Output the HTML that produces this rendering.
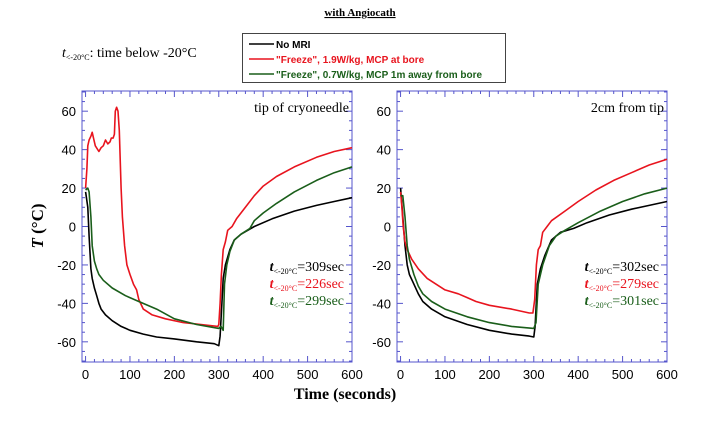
<!DOCTYPE html>
<html><head><meta charset="utf-8"><style>
body{margin:0;background:#fff;width:721px;height:416px;overflow:hidden}
svg text{font-family:"Liberation Serif",serif}
.sans{font-family:"Liberation Sans",sans-serif}
</style></head><body>
<svg id="chart" width="721" height="416">
<text x="360" y="16" text-anchor="middle" font-size="11" font-weight="bold" text-decoration="underline">with Angiocath</text>
<text x="62" y="57" font-size="14"><tspan font-style="italic">t</tspan><tspan font-size="8" dy="3">&lt;-20°C</tspan><tspan dy="-3">: time below -20°C</tspan></text>
<g>
<rect x="242.5" y="33.5" width="263" height="49" fill="#fff" stroke="#444" stroke-width="1"/>
<g><line x1="249" y1="44" x2="274" y2="44" stroke="#000" stroke-width="1.5"/><text class="sans" x="276" y="48" font-size="10" font-weight="bold" fill="#000">No MRI</text></g>
<g><line x1="249" y1="59" x2="274" y2="59" stroke="#e8141e" stroke-width="1.5"/><text class="sans" x="276" y="63" font-size="10" font-weight="bold" fill="#e8141e">"Freeze", 1.9W/kg, MCP at bore</text></g>
<g><line x1="249" y1="74" x2="274" y2="74" stroke="#1a5e1a" stroke-width="1.5"/><text class="sans" x="276" y="78" font-size="10" font-weight="bold" fill="#1a5e1a">"Freeze", 0.7W/kg, MCP 1m away from bore</text></g>
</g>
<text transform="translate(43,226) rotate(-90)" text-anchor="middle" font-size="17" font-weight="bold"><tspan font-style="italic">T</tspan> (°C)</text>
<text x="345" y="399" text-anchor="middle" font-size="16" font-weight="bold">Time (seconds)</text>
<g id="panels"></g>
</svg>
<script>
const xTicks=[0,100,200,300,400,500,600];
const yTicks=[-60,-40,-20,0,20,40,60];
const leftBlack=[[0,18],[5,10],[8,-5],[12,-22],[15,-27],[20,-32],[25,-36],[30,-40],[35,-43],[45,-46],[60,-49],[80,-52],[100,-54],[130,-56],[160,-57.5],[200,-58.5],[250,-60],[290,-61],[300,-62],[303,-57],[307,-40],[310,-27],[315,-20],[325,-12],[335,-7],[350,-4],[380,0],[420,4],[470,8],[520,11],[560,13],[600,15]];
const leftRed=[[0,20],[3,30],[5,42],[8,45],[12,47],[15,49],[18,46],[22,42],[30,39],[35,41],[40,42],[45,45],[50,43],[55,44],[58,46],[62,46],[65,48],[67,60],[70,62],[73,60],[76,50],[80,20],[83,5],[88,-10],[93,-20],[100,-25],[108,-30],[115,-33],[120,-38],[130,-43],[150,-46],[180,-48],[220,-50],[260,-51],[298,-52],[300,-51],[303,-40],[306,-25],[310,-12],[315,-8],[320,-2],[330,0],[340,4],[360,10],[380,16],[400,21],[430,26],[470,31],[520,36],[560,39],[600,41]];
const leftGreen=[[0,19],[5,20],[8,18],[12,5],[15,-10],[20,-18],[25,-22],[30,-25],[40,-28],[60,-32],[90,-36],[120,-39],[160,-43],[200,-48],[250,-51],[300,-53],[305,-52],[310,-54],[313,-30],[318,-20],[325,-13],[335,-7],[350,-4],[370,-1],[380,3],[400,7],[430,12],[470,18],[520,24],[560,28],[600,31]];
const rightBlack=[[0,20],[5,5],[10,-10],[15,-20],[20,-25],[30,-30],[40,-35],[50,-39],[70,-43],[100,-47],[150,-51],[200,-54],[250,-56],[290,-57],[300,-57.5],[303,-52],[308,-30],[315,-22],[325,-15],[340,-7],[360,-3],[390,-1],[420,2],[470,6],[520,9],[560,11],[600,13]];
const rightRed=[[0,18],[3,10],[6,0],[10,-8],[15,-12],[25,-17],[40,-22],[60,-27],[80,-30],[100,-33],[130,-35],[150,-37],[170,-39],[200,-41],[250,-43],[290,-45],[298,-45],[302,-38],[306,-20],[310,-12],[315,-10],[320,-3],[330,0],[340,3],[370,8],[400,13],[440,19],[480,24],[520,28],[560,32],[600,35]];
const rightGreen=[[0,16],[5,16],[10,5],[15,-10],[20,-17],[30,-25],[40,-31],[50,-35],[70,-39],[100,-43],[150,-47],[200,-50],[250,-52],[300,-53],[305,-50],[310,-30],[320,-20],[335,-10],[350,-5],[370,-2],[400,2],[450,8],[500,13],[550,17],[600,20]];
const leftTimes=["309","226","299"];
const rightTimes=["302","279","301"];
const colors=["#000","#e8141e","#1a5e1a"];
const NS="http://www.w3.org/2000/svg";
function mk(tag,attrs,parent){const e=document.createElementNS(NS,tag);for(const k in attrs)e.setAttribute(k,attrs[k]);parent.appendChild(e);return e;}
const root=document.getElementById('panels');
function panel(x0,name,label,series,times){
  const x1=x0+270,y0=91,y1=362,dMin=-8,dMax=600,yMin=-70.5,yMax=70.5;
  const sx=v=>x0+(v-dMin)/(dMax-dMin)*(x1-x0);
  const sy=v=>y1-(v-yMin)/(yMax-yMin)*(y1-y0);
  const g=mk('g',{},root);
  
  
  const fr=mk('rect',{x:x0,y:y0,width:x1-x0,height:y1-y0,fill:'none',stroke:'#5555cc','stroke-width':1},g);
  
  
  for(let v=0;v<=600;v+=20){const X=sx(v),L=v%100===0?6:3;
    mk('line',{x1:X,y1:y1,x2:X,y2:y1-L,stroke:'#5555cc'},g);
    mk('line',{x1:X,y1:y0,x2:X,y2:y0+L,stroke:'#5555cc'},g);}
  for(let v=-70;v<=70;v+=5){const Y=sy(v),L=v%20===0?6:3;
    mk('line',{x1:x0,y1:Y,x2:x0+L,y2:Y,stroke:'#5555cc'},g);
    mk('line',{x1:x1,y1:Y,x2:x1-L,y2:Y,stroke:'#5555cc'},g);}
  xTicks.forEach(v=>{const t=mk('text',{x:sx(v),y:y1+17,'text-anchor':'middle','font-size':13,class:'sans'},g);t.textContent=v;
    
    });
  yTicks.forEach(v=>{const t=mk('text',{x:x0-6,y:sy(v)+5,'text-anchor':'end','font-size':13,class:'sans'},g);t.textContent=v;
    
    });
  const lb=mk('text',{x:x1-3,y:y0+21,'text-anchor':'end','font-size':14},g);lb.textContent=label;
  
  
  const names=['series-no-mri','series-freeze-1.9','series-freeze-0.7'];
  series.forEach((s,i)=>{const p=mk('polyline',{points:s.map(d=>sx(d[0]).toFixed(1)+','+sy(d[1]).toFixed(1)).join(' '),fill:'none',stroke:colors[i],'stroke-width':1.6,'stroke-linejoin':'round'},g);
    
    });
  times.forEach((tm,i)=>{const t=mk('text',{x:x1-8,y:271+i*17,'text-anchor':'end','font-size':14,fill:colors[i]},g);
    t.innerHTML='<tspan font-style="italic" font-weight="bold">t</tspan><tspan font-size="8" dy="3">&lt;-20°C</tspan><tspan dy="-3">='+tm+'sec</tspan>';
    
    });
}
panel(82,'panel-tip-of-cryoneedle','tip of cryoneedle',[leftBlack,leftRed,leftGreen],leftTimes);
panel(397,'panel-2cm-from-tip','2cm from tip',[rightBlack,rightRed,rightGreen],rightTimes);
</script>
</body></html>
